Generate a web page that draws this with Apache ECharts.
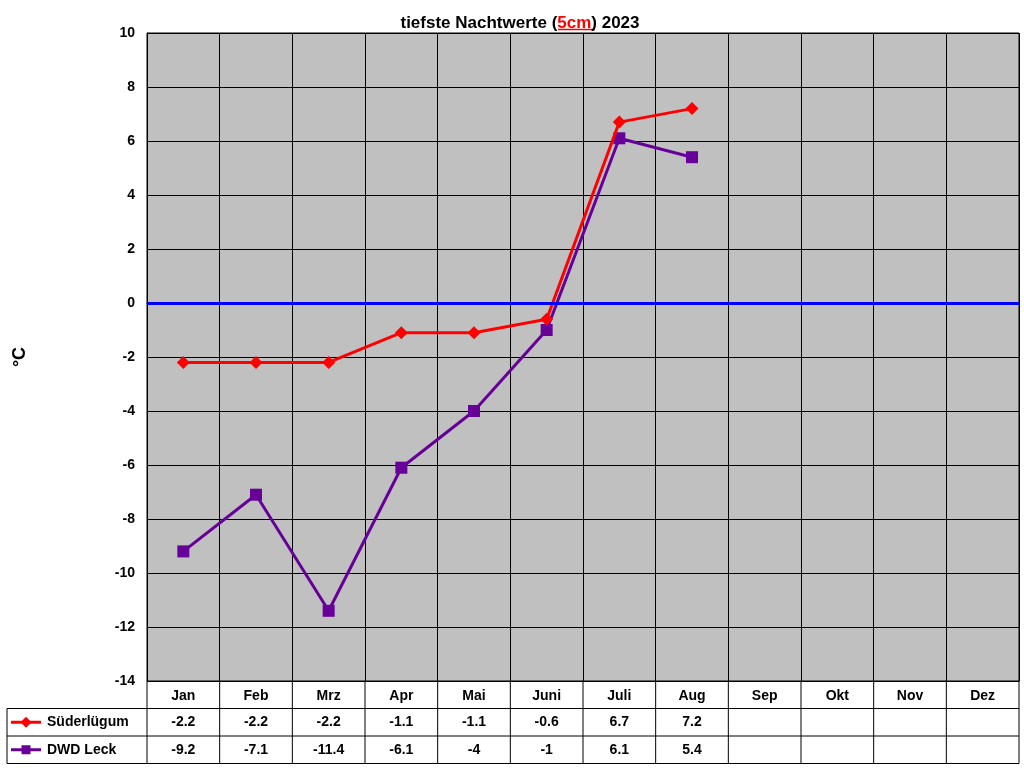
<!DOCTYPE html>
<html>
<head>
<meta charset="utf-8">
<script src="https://cdn.jsdelivr.net/npm/echarts@6/dist/echarts.min.js"></script>
<style>html,body{margin:0;padding:0;background:#fff}#main{width:1024px;height:768px}</style>
</head>
<body>
<div id="main"></div>
<script>
// Monate und Messwerte
var months = ['Jan', 'Feb', 'Mrz', 'Apr', 'Mai', 'Juni', 'Juli', 'Aug', 'Sep', 'Okt', 'Nov', 'Dez']
var suederluegum = [-2.2, -2.2, -2.2, -1.1, -1.1, -0.6, 6.7, 7.2, null, null, null, null]
var dwdLeck = [-9.2, -7.1, -11.4, -6.1, -4, -1, 6.1, 5.4, null, null, null, null]
var seriesNames = ['Süderlügum', 'DWD Leck']
var seriesColors = ['#ff0000', '#660099']
var seriesSymbols = ['diamond', 'rect']

var chart = echarts.init(document.getElementById('main'))
var font = 'Arial, "Liberation Sans", sans-serif'

var option = {
  animation: false,
  title: {
    text: 'tiefste Nachtwerte ({r|5cm}) 2023',
    left: 515, top: 10, textAlign: 'center',
    textStyle: {
      fontFamily: font, fontSize: 17, fontWeight: 'bold', color: '#000',
      rich: { r: { fontFamily: font, fontSize: 17, fontWeight: 'bold', color: '#ff0000' } }
    }
  },
  grid: { left: 147, right: 5, top: 33, bottom: 87, backgroundColor: '#c0c0c0', show: true, borderColor: '#000', borderWidth: 1 },
  xAxis: {
    type: 'category', data: months, boundaryGap: true,
    axisLine: { lineStyle: { color: '#000' } },
    axisTick: { show: false },
    splitLine: { show: true, lineStyle: { color: '#000', width: 1 } },
    axisLabel: { fontFamily: font, fontSize: 14, fontWeight: 'bold', color: '#000', margin: 8 }
  },
  yAxis: {
    type: 'value', min: -14, max: 10, interval: 2,
    name: '°C', nameLocation: 'middle', nameGap: 118, nameRotate: 90,
    nameTextStyle: { fontFamily: font, fontSize: 18, fontWeight: 'bold', color: '#000' },
    axisLine: { show: true, lineStyle: { color: '#000' } },
    axisTick: { show: false },
    splitLine: { lineStyle: { color: '#000', width: 1 } },
    axisLabel: { fontFamily: font, fontSize: 14, fontWeight: 'bold', color: '#000', margin: 12 }
  },
  series: [
    {
      name: seriesNames[0], type: 'line', data: suederluegum, z: 4,
      symbol: seriesSymbols[0], symbolSize: 13,
      lineStyle: { color: seriesColors[0], width: 3 }, itemStyle: { color: seriesColors[0] },
      markLine: { silent: true, symbol: 'none', label: { show: false },
        lineStyle: { color: '#0000ff', width: 3, type: 'solid' }, data: [{ yAxis: 0 }] }
    },
    {
      name: seriesNames[1], type: 'line', data: dwdLeck, z: 3,
      symbol: seriesSymbols[1], symbolSize: 12,
      lineStyle: { color: seriesColors[1], width: 3 }, itemStyle: { color: seriesColors[1] }
    }
  ]
}
chart.setOption(option)

// Datentabelle unter dem Diagramm
var gridTop = 681, rowH = 27.5, tableLeft = 7
var rows = [suederluegum, dwdLeck]
var els = []
var catW = chart.convertToPixel({ xAxisIndex: 0 }, months[1]) - chart.convertToPixel({ xAxisIndex: 0 }, months[0])
var x0 = chart.convertToPixel({ xAxisIndex: 0 }, months[0]) - catW / 2
var bottom = gridTop + rowH * 3
var line = function (x1, y1, x2, y2, c, w) {
  els.push({ type: 'line', shape: { x1: x1, y1: y1, x2: x2, y2: y2 }, style: { stroke: c || '#000', lineWidth: w || 1 }, silent: true })
}
for (var i = 0; i <= months.length; i++) line(x0 + i * catW, gridTop, x0 + i * catW, bottom)
line(tableLeft, gridTop + rowH, x0 + months.length * catW, gridTop + rowH)
line(tableLeft, gridTop + rowH * 2, x0 + months.length * catW, gridTop + rowH * 2)
line(tableLeft, bottom, x0 + months.length * catW, bottom)
line(tableLeft, gridTop + rowH, tableLeft, bottom)
rows.forEach(function (row, r) {
  var cy = gridTop + rowH * (r + 1.5)
  line(11, cy, 41, cy, seriesColors[r], 3)
  var sz = 9
  if (r === 0) els.push({ type: 'polygon', shape: { points: [[26, cy - sz / 2 - 1], [26 + sz / 2 + 1, cy], [26, cy + sz / 2 + 1], [26 - sz / 2 - 1, cy]] }, style: { fill: seriesColors[r] } })
  else els.push({ type: 'rect', shape: { x: 26 - sz / 2, y: cy - sz / 2, width: sz, height: sz }, style: { fill: seriesColors[r] } })
  els.push({ type: 'text', x: 47, y: cy, style: { text: seriesNames[r], font: 'bold 14px ' + font, fill: '#000', textVerticalAlign: 'middle' } })
  row.forEach(function (v, i) {
    if (v === null) return
    els.push({ type: 'text', x: x0 + (i + 0.5) * catW, y: cy, style: { text: String(v), font: 'bold 14px ' + font, fill: '#000', textAlign: 'center', textVerticalAlign: 'middle' } })
  })
})
// Unterstreichung für "5cm"
line(558, 29.5, 595, 29.5, '#ff0000', 1.5)
chart.setOption({ graphic: els })
</script>
</body>
</html>
